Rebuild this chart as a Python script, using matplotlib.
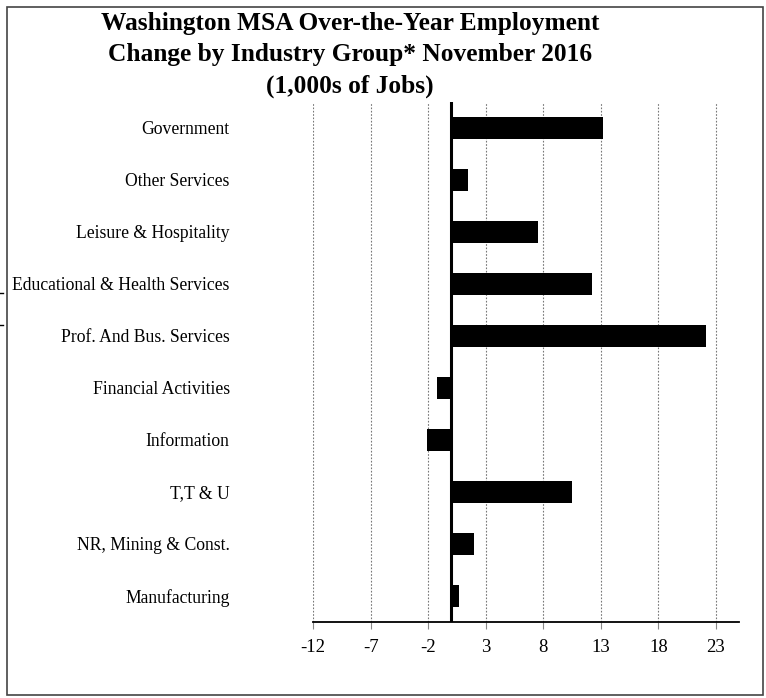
import numpy as np
import matplotlib.pyplot as plt
from matplotlib.patches import Rectangle
from matplotlib.lines import Line2D

plt.rcParams['font.family'] = ['Liberation Serif', 'DejaVu Serif']

# data, top to bottom as shown
industries = ['Government', 'Other Services', 'Leisure & Hospitality',
              'Educational & Health Services', 'Prof. And Bus. Services',
              'Financial Activities', 'Information', 'T,T & U',
              'NR, Mining & Const.', 'Manufacturing']
change = [13.2, 1.5, 7.5, 12.2, 22.1, -1.2, -2.1, 10.5, 2.0, 0.7]
xticks = [-12, -7, -2, 3, 8, 13, 18, 23]

W, H = 766, 698
fig = plt.figure(figsize=(W/100, H/100), dpi=100)
ax = fig.add_axes([313/W, 1-622/H, (739-313)/W, (622-102)/H])

ypos = np.arange(len(industries))
ax.barh(ypos, change, height=0.43, color='black', zorder=3)
ax.axvline(0, color='black', lw=2.2, zorder=4)

ax.set_xlim(-12, 25)
ax.set_ylim(len(industries)-0.5, -0.5)
ax.set_xticks(xticks)
ax.set_xticklabels([str(t) for t in xticks], fontsize=13.5)
ax.set_yticks(ypos)
ax.set_yticklabels(industries, fontsize=12.7)
ax.tick_params(axis='y', length=0, pad=60)
ax.tick_params(axis='x', length=5, color='#888888', width=0.8, pad=7)
ax.grid(axis='x', color='#777777', linestyle=(0, (1.5, 1.5)), lw=0.8, zorder=0)
for s in ['left', 'top', 'right']:
    ax.spines[s].set_visible(False)
ax.spines['bottom'].set_linewidth(1.3)

fig.text(350/W, 1-55/H,
         'Washington MSA Over-the-Year Employment\n'
         'Change by Industry Group* November 2016\n(1,000s of Jobs)',
         ha='center', va='center', fontsize=18.3, fontweight='bold', linespacing=1.47)

# outer frame of the chart
fig.patches.append(Rectangle((7/W, 1-695/H), 756/W, 688/H, transform=fig.transFigure,
                             fill=False, edgecolor='#444444', lw=1.2))
# small marks at the left edge
for yy in [293, 325]:
    fig.lines.append(Line2D([0, 3/W], [1-yy/H, 1-yy/H], transform=fig.transFigure,
                            color='black', lw=1))

fig.savefig('out.png', dpi=100)
